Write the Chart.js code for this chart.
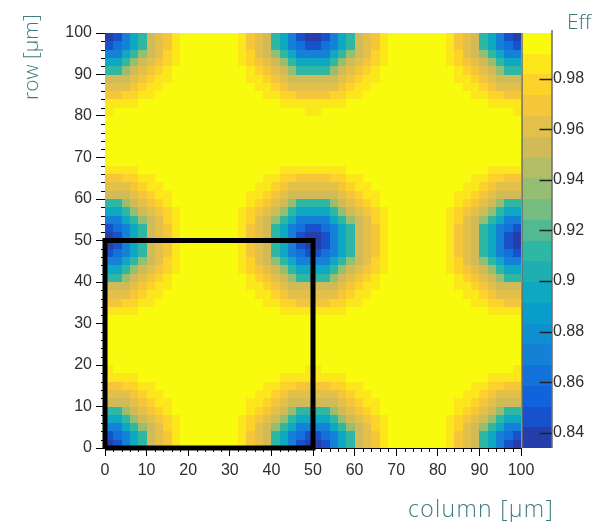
<!DOCTYPE html>
<html>
<head>
<meta charset="utf-8">
<script src="https://cdn.jsdelivr.net/npm/chart.js@4"></script>
<style>
  html, body { margin: 0; padding: 0; background: #fff; }
  canvas { display: block; }
</style>
</head>
<body>
<canvas id="c" width="600" height="522"></canvas>
<script>
// 2 µm bins along column and row (bin centres)
const columnBins = [1,3,5,7,9,11,13,15,17,19,21,23,25,27,29,31,33,35,37,39,41,43,45,47,49,
                    51,53,55,57,59,61,63,65,67,69,71,73,75,77,79,81,83,85,87,89,91,93,95,97,99];
const rowBins = [1,3,5,7,9,11,13,15,17,19,21,23,25,27,29,31,33,35,37,39,41,43,45,47,49,
                 51,53,55,57,59,61,63,65,67,69,71,73,75,77,79,81,83,85,87,89,91,93,95,97,99];

const xTicks = [0,10,20,30,40,50,60,70,80,90,100];
const yTicks = [0,10,20,30,40,50,60,70,80,90,100];
const effTicks = [0.84,0.86,0.88,0.90,0.92,0.94,0.96,0.98];
const effRange = [0.834, 0.998];

// efficiency level for each map symbol
const effLevels = {
  A: 0.838, B: 0.848, C: 0.862, D: 0.872, E: 0.893, F: 0.913, G: 0.935,
  H: 0.952, I: 0.965, J: 0.972, K: 0.978, L: 0.986, M: 0.996
};

// efficiency map, one string per row, from row 99 µm (top) down to row 1 µm;
// each character is one column bin from 1 µm to 99 µm
const effRowsTopDown = [
  "ABDEFHIJLMMMMMMMLJIHFEDBAABDEFHIJLMMMMMMMLJIHFEDBA",
  "BCDEFHIJLMMMMMMMLJIHFEDCBBCDEFHIJLMMMMMMMLJIHFEDCB",
  "DDEFGHIKLMMMMMMMLKIHGFEDDDDEFGHIKLMMMMMMMLKIHGFEDD",
  "EEFGHIJKLMMMMMMMLKJIHGFEEEEFGHIJKLMMMMMMMLKJIHGFEE",
  "FFGHIJKLMMMMMMMMMLKJIHGFFFFGHIJKLMMMMMMMMMLKJIHGFF",
  "HHHIJKLLMMMMMMMMMLLKJIHHHHHHIJKLLMMMMMMMMMLLKJIHHH",
  "IIIJKLLMMMMMMMMMMMLLKJIIIIIIJKLLMMMMMMMMMMMLLKJIII",
  "JJKKLLMMMMMMMMMMMMMLLKKJJJJKKLLMMMMMMMMMMMMMLLKKJJ",
  "LLLLMMMMMMMMMMMMMMMMMLLLLLLLLMMMMMMMMMMMMMMMMMLLLL",
  "LMMMMMMMMMMMMMMMMMMMMMMMLLMMMMMMMMMMMMMMMMMMMMMMML",
  "MMMMMMMMMMMMMMMMMMMMMMMMMMMMMMMMMMMMMMMMMMMMMMMMMM",
  "MMMMMMMMMMMMMMMMMMMMMMMMMMMMMMMMMMMMMMMMMMMMMMMMMM",
  "MMMMMMMMMMMMMMMMMMMMMMMMMMMMMMMMMMMMMMMMMMMMMMMMMM",
  "MMMMMMMMMMMMMMMMMMMMMMMMMMMMMMMMMMMMMMMMMMMMMMMMMM",
  "MMMMMMMMMMMMMMMMMMMMMMMMMMMMMMMMMMMMMMMMMMMMMMMMMM",
  "MMMMMMMMMMMMMMMMMMMMMMMMMMMMMMMMMMMMMMMMMMMMMMMMMM",
  "LLLLMMMMMMMMMMMMMMMMMLLLLLLLLMMMMMMMMMMMMMMMMMLLLL",
  "JJKKLLMMMMMMMMMMMMMLLKKJJJJKKLLMMMMMMMMMMMMMLLKKJJ",
  "IIIJKLLMMMMMMMMMMMLLKJIIIIIIJKLLMMMMMMMMMMMLLKJIII",
  "HHHIJKLLMMMMMMMMMLLKJIHHHHHHIJKLLMMMMMMMMMLLKJIHHH",
  "FFGHIJKLMMMMMMMMMLKJIHGFFFFGHIJKLMMMMMMMMMLKJIHGFF",
  "EEFGHIJKLMMMMMMMLKJIHGFEEEEFGHIJKLMMMMMMMLKJIHGFEE",
  "DDEFGHIKLMMMMMMMLKIHGFEDDDDEFGHIKLMMMMMMMLKIHGFEDD",
  "BCDEFHIJLMMMMMMMLJIHFEDCBBCDEFHIJLMMMMMMMLJIHFEDCB",
  "ABDEFHIJLMMMMMMMLJIHFEDBAABDEFHIJLMMMMMMMLJIHFEDBA",
  "ABDEFHIJLMMMMMMMLJIHFEDBAABDEFHIJLMMMMMMMLJIHFEDBA",
  "BCDEFHIJLMMMMMMMLJIHFEDCBBCDEFHIJLMMMMMMMLJIHFEDCB",
  "DDEFGHIKLMMMMMMMLKIHGFEDDDDEFGHIKLMMMMMMMLKIHGFEDD",
  "EEFGHIJKLMMMMMMMLKJIHGFEEEEFGHIJKLMMMMMMMLKJIHGFEE",
  "FFGHIJKLMMMMMMMMMLKJIHGFFFFGHIJKLMMMMMMMMMLKJIHGFF",
  "HHHIJKLLMMMMMMMMMLLKJIHHHHHHIJKLLMMMMMMMMMLLKJIHHH",
  "IIIJKLLMMMMMMMMMMMLLKJIIIIIIJKLLMMMMMMMMMMMLLKJIII",
  "JJKKLLMMMMMMMMMMMMMLLKKJJJJKKLLMMMMMMMMMMMMMLLKKJJ",
  "LLLLMMMMMMMMMMMMMMMMMLLLLLLLLMMMMMMMMMMMMMMMMMLLLL",
  "MMMMMMMMMMMMMMMMMMMMMMMMMMMMMMMMMMMMMMMMMMMMMMMMMM",
  "MMMMMMMMMMMMMMMMMMMMMMMMMMMMMMMMMMMMMMMMMMMMMMMMMM",
  "MMMMMMMMMMMMMMMMMMMMMMMMMMMMMMMMMMMMMMMMMMMMMMMMMM",
  "MMMMMMMMMMMMMMMMMMMMMMMMMMMMMMMMMMMMMMMMMMMMMMMMMM",
  "MMMMMMMMMMMMMMMMMMMMMMMMMMMMMMMMMMMMMMMMMMMMMMMMMM",
  "MMMMMMMMMMMMMMMMMMMMMMMMMMMMMMMMMMMMMMMMMMMMMMMMMM",
  "LMMMMMMMMMMMMMMMMMMMMMMMLLMMMMMMMMMMMMMMMMMMMMMMML",
  "LLLLMMMMMMMMMMMMMMMMMLLLLLLLLMMMMMMMMMMMMMMMMMLLLL",
  "JJKKLLMMMMMMMMMMMMMLLKKJJJJKKLLMMMMMMMMMMMMMLLKKJJ",
  "IIIJKLLMMMMMMMMMMMLLKJIIIIIIJKLLMMMMMMMMMMMLLKJIII",
  "HHHIJKLLMMMMMMMMMLLKJIHHHHHHIJKLLMMMMMMMMMLLKJIHHH",
  "FFGHIJKLMMMMMMMMMLKJIHGFFFFGHIJKLMMMMMMMMMLKJIHGFF",
  "EEFGHIJKLMMMMMMMLKJIHGFEEEEFGHIJKLMMMMMMMLKJIHGFEE",
  "DDEFGHIKLMMMMMMMLKIHGFEDDDDEFGHIKLMMMMMMMLKIHGFEDD",
  "BCDEFHIJLMMMMMMMLJIHFEDCBBCDEFHIJLMMMMMMMLJIHFEDCB",
  "ABDEFHIJLMMMMMMMLJIHFEDBAABDEFHIJLMMMMMMMLJIHFEDBA"
];

// outline of one pixel cell (column, row in µm)
const boxX = [0, 0, 50, 50, 0];
const boxY = [0, 50, 50, 0, 0];

// ---- "bird" palette, 20 contour bands ----
const birdStops = [0.0, 0.125, 0.25, 0.375, 0.5, 0.625, 0.75, 0.875, 1.0];
const birdR = [0.2082, 0.0592, 0.0780, 0.0232, 0.1802, 0.5301, 0.8186, 0.9956, 0.9764];
const birdG = [0.1664, 0.3599, 0.5041, 0.6419, 0.7178, 0.7492, 0.7328, 0.7862, 0.9832];
const birdB = [0.5293, 0.8684, 0.8385, 0.7914, 0.6425, 0.4662, 0.3499, 0.1968, 0.0539];
const nContours = 20;

function birdColor(t) {
  t = Math.max(0, Math.min(1, t));
  let k = 0;
  while (k < birdStops.length - 2 && t > birdStops[k + 1]) k++;
  const f = (t - birdStops[k]) / (birdStops[k + 1] - birdStops[k]);
  const mix = a => Math.round(255 * (a[k] + (a[k + 1] - a[k]) * f));
  return `rgb(${mix(birdR)},${mix(birdG)},${mix(birdB)})`;
}
function bandColor(band) {
  return birdColor((band + 1) / nContours);
}
function effColor(v) {
  const t = (v - effRange[0]) / (effRange[1] - effRange[0]);
  const band = Math.max(0, Math.min(nContours - 1, Math.floor(t * nContours)));
  return bandColor(band);
}

const tickFont = { family: '"Liberation Sans", Arial, sans-serif', size: 16 };
const tickColor = '#2e2e2e';
const titleColor = '#3f7c7d';

// draws the 2D efficiency histogram cells
const heatmapPlugin = {
  id: 'heatmap',
  beforeDatasetsDraw(chart) {
    const { ctx, scales: { x, y } } = chart;
    const halfW = (columnBins[1] - columnBins[0]) / 2;
    const halfH = (rowBins[1] - rowBins[0]) / 2;
    ctx.save();
    const nRows = effRowsTopDown.length;
    for (let k = 0; k < nRows; k++) {
      const row = effRowsTopDown[k];
      const yc = rowBins[nRows - 1 - k];
      const yTop = Math.round(y.getPixelForValue(yc + halfH));
      const yBot = Math.round(y.getPixelForValue(yc - halfH));
      for (let c = 0; c < columnBins.length; c++) {
        const v = effLevels[row[c]];
        const xc = columnBins[c];
        const xL = Math.round(x.getPixelForValue(xc - halfW));
        const xR = Math.round(x.getPixelForValue(xc + halfW));
        ctx.fillStyle = effColor(v);
        ctx.fillRect(xL, yTop, xR - xL, yBot - yTop);
      }
    }
    ctx.restore();
  }
};

// colour scale bar drawn along the right-hand efficiency axis
const colorBarPlugin = {
  id: 'colorbar',
  afterDraw(chart) {
    const { ctx, chartArea } = chart;
    const z = chart.scales.z;
    const left = chartArea.right + 1.5;
    const right = chartArea.right + 30.5;
    ctx.save();
    for (let b = 0; b < nContours; b++) {
      const v0 = effRange[0] + (effRange[1] - effRange[0]) * b / nContours;
      const v1 = effRange[0] + (effRange[1] - effRange[0]) * (b + 1) / nContours;
      const p0 = Math.round(z.getPixelForValue(v0));
      const p1 = Math.round(z.getPixelForValue(v1));
      ctx.fillStyle = bandColor(b);
      ctx.fillRect(left, p1, right - left, p0 - p1);
    }
    ctx.strokeStyle = '#222';
    ctx.lineWidth = 1;
    ctx.beginPath();
    ctx.moveTo(left - 0.5, chartArea.top);
    ctx.lineTo(left - 0.5, chartArea.bottom);
    ctx.moveTo(right + 0.5, chartArea.top - 3);
    ctx.lineTo(right + 0.5, chartArea.bottom);
    ctx.stroke();
    ctx.lineWidth = 1.5;
    ctx.beginPath();
    z.ticks.forEach(t => {
      const p = Math.round(z.getPixelForValue(t.value)) + 0.5;
      ctx.moveTo(right + 0.5, p);
      ctx.lineTo(right - 12, p);
    });
    ctx.stroke();
    ctx.restore();
  }
};

// secondary (minor) tick marks every 2 µm on both axes
const minorTickPlugin = {
  id: 'minorTicks',
  afterDraw(chart) {
    const { ctx, chartArea, scales: { x, y } } = chart;
    ctx.save();
    ctx.strokeStyle = '#000';
    ctx.lineWidth = 1;
    ctx.beginPath();
    for (let v = 0; v <= 100; v += 2) {
      if (v % 10 === 0) continue;
      const px = Math.round(x.getPixelForValue(v)) + 0.5;
      ctx.moveTo(px, chartArea.bottom);
      ctx.lineTo(px, chartArea.bottom + 4);
      const py = Math.round(y.getPixelForValue(v)) + 0.5;
      ctx.moveTo(chartArea.left, py);
      ctx.lineTo(chartArea.left - 4, py);
    }
    ctx.stroke();
    ctx.restore();
  }
};

// axis titles
const titlesPlugin = {
  id: 'axisTitles',
  afterDraw(chart) {
    const { ctx } = chart;
    ctx.save();
    ctx.fillStyle = titleColor;
    ctx.textBaseline = 'alphabetic';
    ctx.textAlign = 'left';
    ctx.font = '300 23px "Open Sans", "Lato", sans-serif';
    ctx.letterSpacing = '1.3px';
    ctx.fillText('column [µm]', 408, 517);
    ctx.letterSpacing = '0px';
    ctx.font = '300 21px "Open Sans", "Lato", sans-serif';
    ctx.fillText('Eff', 567, 29);
    ctx.translate(38, 100);
    ctx.rotate(-Math.PI / 2);
    ctx.fillText('row [µm]', 0, 0);
    ctx.restore();
  }
};

const fmt = v => String(+Number(v).toFixed(2));
// the vertical axes should not push the plot area down with label padding
const noVerticalPadding = s => { s.paddingTop = 0; s.paddingBottom = 0; };

new Chart(document.getElementById('c'), {
  type: 'scatter',
  data: {
    datasets: [{
      type: 'line',
      data: boxX.map((bx, i) => ({ x: bx, y: boxY[i] })),
      borderColor: '#000',
      borderWidth: 5,
      borderJoinStyle: 'miter',
      pointRadius: 0,
      tension: 0,
      fill: false,
      clip: false
    }]
  },
  options: {
    responsive: false,
    devicePixelRatio: 1,
    animation: false,
    events: [],
    layout: { padding: { top: 33, left: 0, right: 0, bottom: 0 } },
    plugins: { legend: { display: false }, tooltip: { enabled: false } },
    scales: {
      x: {
        type: 'linear', position: 'bottom', min: 0, max: 100,
        afterBuildTicks: s => { s.ticks = xTicks.map(v => ({ value: v })); },
        afterFit: s => { s.height = 74; },
        ticks: { font: tickFont, color: tickColor, padding: 5, maxRotation: 0, autoSkip: false, callback: fmt },
        grid: { drawOnChartArea: false, tickLength: 8, color: '#000', tickColor: '#000' },
        border: { color: '#000', width: 1 }
      },
      y: {
        type: 'linear', position: 'left', min: 0, max: 100,
        afterBuildTicks: s => { s.ticks = yTicks.map(v => ({ value: v })); },
        afterFit: s => { s.width = 105; noVerticalPadding(s); },
        ticks: { font: tickFont, color: tickColor, padding: 4, autoSkip: false, callback: fmt },
        grid: { drawOnChartArea: false, tickLength: 9, color: '#000', tickColor: '#000' },
        border: { color: '#000', width: 1 }
      },
      z: {
        type: 'linear', position: 'right', min: effRange[0], max: effRange[1],
        afterBuildTicks: s => { s.ticks = effTicks.map(v => ({ value: v })); },
        afterFit: s => { s.width = 79; noVerticalPadding(s); },
        ticks: { font: tickFont, color: tickColor, padding: 32, autoSkip: false, callback: fmt },
        grid: { display: false, drawTicks: false, drawOnChartArea: false },
        border: { display: false }
      }
    }
  },
  plugins: [heatmapPlugin, colorBarPlugin, minorTickPlugin, titlesPlugin]
});
</script>
</body>
</html>
